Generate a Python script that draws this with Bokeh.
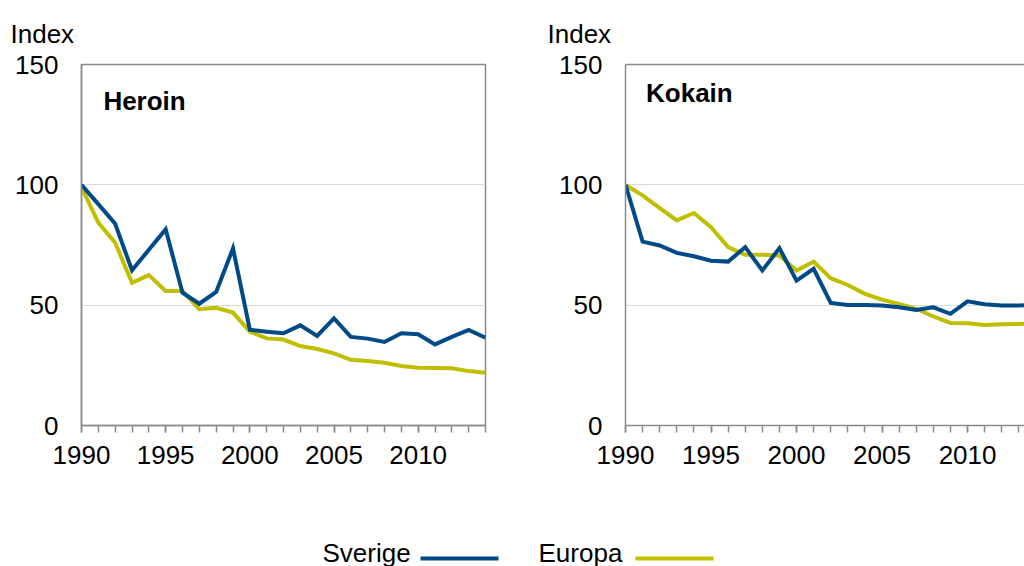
from bokeh.plotting import figure
from bokeh.models import (Range1d, FixedTicker, LinearAxis, Label, ColumnDataSource)
from bokeh.layouts import column, row
from bokeh.embed import file_html
from bokeh.resources import INLINE
from bokeh.core.properties import value

# ---------------- data ----------------
years = list(range(1990, 2015))

heroin_sverige = [100, 92, 83.8, 64.5, 73, 81.5, 55.2, 50.6, 55.5, 73.6,
                  39.8, 39.0, 38.3, 41.6, 37.2, 44.5, 36.8, 36.1, 34.7, 38.3,
                  37.9, 33.7, 36.8, 39.7, 36.5]
heroin_europa = [99, 84.3, 75.9, 59.3, 62.5, 55.9, 55.9, 48.3, 48.9, 46.9,
                 39.0, 36.2, 35.7, 33.0, 31.8, 30.0, 27.3, 26.8, 26.1, 24.7,
                 24.0, 23.9, 23.8, 22.6, 21.9]

kokain_sverige = [100, 76.4, 74.8, 71.7, 70.3, 68.5, 68.1, 74.1, 64.4, 73.7,
                  60.2, 65.1, 50.9, 50.1, 50.1, 49.9, 49.1, 48.0, 49.1, 46.4,
                  51.6, 50.4, 49.9, 49.9, 50.0]
kokain_europa = [100, 95.6, 90.3, 85.2, 88.3, 82.4, 74.1, 70.9, 70.9, 70.6,
                 64.4, 68.1, 61.2, 58.4, 54.7, 52.3, 50.5, 48.5, 45.3, 42.6,
                 42.5, 41.8, 42.1, 42.2, 42.3]

y_ticks = [0, 50, 100, 150]
x_major = [1990, 1995, 2000, 2005, 2010]
panel_titles = ["Heroin", "Kokain"]
series_names = ["Sverige", "Europa"]
y_title = "Index"

# ---------------- styles ----------------
BLUE = "#004a87"
OLIVE = "#bfbf00"
GRAY = "#8a8a8a"
GRID = "#d9d9d9"
FONT = "Liberation Sans"
FS = "26px"


def make_panel(sv, eu, title, width, x_end, mbr, title_pos, title_offset, outline):
    p = figure(width=width, height=490, output_backend="svg", toolbar_location=None,
               x_range=Range1d(1990, x_end), y_range=Range1d(0, 150),
               min_border_left=81, min_border_right=mbr, min_border_top=64,
               min_border_bottom=65, tools="")
    p.background_fill_color = "white"
    p.border_fill_color = "white"

    src = ColumnDataSource(dict(year=years, sv=sv, eu=eu))
    p.line("year", "eu", source=src, line_color=OLIVE, line_width=4, line_join="miter")
    p.line("year", "sv", source=src, line_color=BLUE, line_width=4, line_join="miter")

    # x axis (bottom)
    xa = p.below[0]
    xa.ticker = FixedTicker(ticks=x_major, minor_ticks=years)
    xa.axis_line_color = GRAY
    xa.axis_line_width = 1.5
    xa.major_tick_line_color = GRAY
    xa.minor_tick_line_color = GRAY
    xa.major_tick_line_width = 1.5
    xa.minor_tick_line_width = 1.5
    xa.major_tick_out = 7
    xa.major_tick_in = 0
    xa.minor_tick_out = 7
    xa.minor_tick_in = 0
    xa.major_label_standoff = 13
    xa.major_label_text_font = FONT
    xa.major_label_text_font_size = FS
    xa.major_label_text_color = "black"

    # y axis
    ya = p.left[0]
    ya.ticker = FixedTicker(ticks=y_ticks)
    ya.axis_line_color = GRAY
    ya.axis_line_width = 1.5
    ya.major_tick_out = 0
    ya.major_tick_in = 0
    ya.minor_tick_out = 0
    ya.minor_tick_in = 0
    ya.major_label_standoff = 23
    ya.major_label_text_font = FONT
    ya.major_label_text_font_size = FS
    ya.major_label_text_color = "black"

    p.xgrid.grid_line_color = None
    p.ygrid.ticker = FixedTicker(ticks=y_ticks)
    p.ygrid.grid_line_color = GRID
    p.ygrid.grid_line_width = 1

    if outline:
        p.outline_line_color = GRAY
        p.outline_line_width = 1.5
    else:
        p.outline_line_color = None
        top = LinearAxis(major_tick_out=0, major_tick_in=0, minor_tick_out=0,
                         minor_tick_in=0, major_label_text_font_size="0px",
                         major_label_standoff=0,
                         axis_line_color=GRAY, axis_line_width=1.5)
        top.ticker = FixedTicker(ticks=[])
        p.add_layout(top, "above")

    # "Index" as a left-aligned title above the frame
    p.title.text = y_title
    p.title.align = "left"
    p.title.vertical_align = "middle"
    p.title.offset = title_offset
    p.title.text_font = FONT
    p.title.text_font_size = FS
    p.title.text_font_style = "normal"
    p.title.text_color = "black"
    p.title.standoff = 30

    p.add_layout(Label(x=title_pos[0], y=title_pos[1], text=title,
                       text_font=FONT, text_font_size=FS,
                       text_font_style="bold", text_baseline="alphabetic",
                       text_color="black"))
    return p


p1 = make_panel(heroin_sverige, heroin_europa, panel_titles[0], 544, 2014, 59,
                (1991.3, 134.8), -71, True)
p2 = make_panel(kokain_sverige, kokain_europa, panel_titles[1], 480, 2013.33, 0,
                (1991.2, 138.2), -78, False)

# ---------------- legend strip ----------------
leg = figure(width=1024, height=76, output_backend="svg", toolbar_location=None,
             x_range=Range1d(0, 1024), y_range=Range1d(0, 76), tools="",
             min_border=0, min_border_left=0, min_border_right=0,
             min_border_top=0, min_border_bottom=0)
leg.axis.visible = False
leg.grid.visible = False
leg.outline_line_color = None
leg.text(x=[322, 538], y=[14, 14], text=series_names, text_font=value(FONT),
         text_font_size=value(FS), text_baseline="alphabetic", text_color="black")
leg.segment(x0=[420, 635], y0=[8, 8], x1=[498, 713], y1=[8, 8],
            line_color=[BLUE, OLIVE], line_width=4)

layout = column(row(p1, p2), leg)
open("out.html", "w").write(file_html(layout, INLINE))
